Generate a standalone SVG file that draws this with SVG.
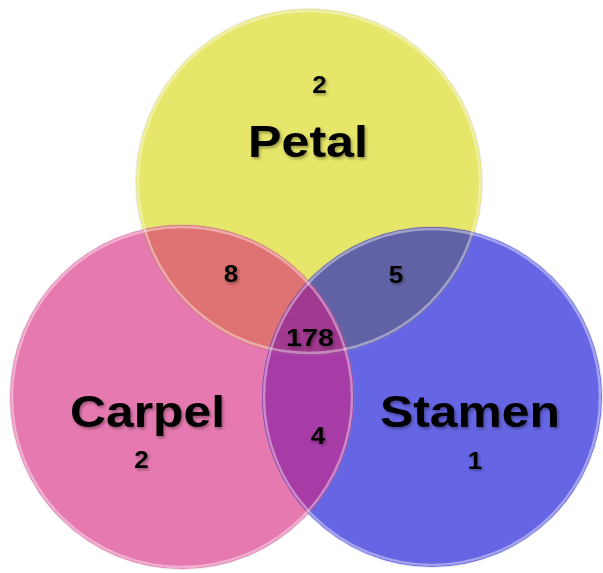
<svg xmlns="http://www.w3.org/2000/svg" width="603" height="573" viewBox="0 0 603 573">
<defs>
<clipPath id="clipY"><circle cx="309" cy="182" r="173"/></clipPath>
<clipPath id="clipP"><circle cx="182" cy="397" r="172"/></clipPath>
<filter id="ts" x="-20%" y="-30%" width="140%" height="170%"><feDropShadow dx="1.5" dy="2" stdDeviation="1.5" flood-color="#000" flood-opacity="0.35"/></filter>
</defs>
<style>
.lbl{font-family:"Liberation Sans",Arial,sans-serif;font-weight:bold;fill:#000;text-anchor:middle;filter:url(#ts)}
.big{font-size:44px}
.num{font-size:24px}
.rim{fill:none;stroke:#ffffff;stroke-opacity:0.4;stroke-width:2.5}
.edge{fill:none;stroke:#999;stroke-opacity:0.2;stroke-width:1}
</style>
<rect width="603" height="573" fill="#ffffff"/>
<g id="petal">
<circle cx="309" cy="182" r="173" fill="#e6e66a"/>
</g>
<g id="carpel">
<circle cx="182" cy="397" r="172" fill="#e67ab0"/>
</g>
<g id="stamen">
<circle cx="432" cy="397" r="170" fill="#6666e5"/>
</g>
<g id="overlaps">
<g clip-path="url(#clipY)"><circle cx="182" cy="397" r="172" fill="#df7272"/></g>
<g clip-path="url(#clipY)"><circle cx="432" cy="397" r="170" fill="#6161a6"/></g>
<g clip-path="url(#clipP)"><circle cx="432" cy="397" r="170" fill="#a73ca6"/></g>
<g clip-path="url(#clipP)"><g clip-path="url(#clipY)"><circle cx="432" cy="397" r="170" fill="#a0398f"/></g></g>
</g>
<g id="rims">
<circle class="edge" cx="309" cy="182" r="173.5"/>
<circle class="edge" cx="182" cy="397" r="172.5"/>
<circle class="edge" cx="432" cy="397" r="170.5"/>
<circle class="rim" cx="309" cy="182" r="171"/>
<circle class="rim" cx="182" cy="397" r="170"/>
<circle class="rim" cx="432" cy="397" r="168"/>
</g>
<g id="connectors"/>
<g id="labels">
<text class="lbl num" x="319.5" y="93" textLength="14.5" lengthAdjust="spacingAndGlyphs">2</text>
<text class="lbl big" x="308" y="157" textLength="120" lengthAdjust="spacingAndGlyphs">Petal</text>
<text class="lbl big" x="147.5" y="427" textLength="155" lengthAdjust="spacingAndGlyphs">Carpel</text>
<text class="lbl num" x="141.5" y="468" textLength="14.5" lengthAdjust="spacingAndGlyphs">2</text>
<text class="lbl big" x="470" y="427" textLength="180" lengthAdjust="spacingAndGlyphs">Stamen</text>
<text class="lbl num" x="475" y="469" textLength="14.5" lengthAdjust="spacingAndGlyphs">1</text>
<text class="lbl num" x="231" y="282" textLength="14.5" lengthAdjust="spacingAndGlyphs">8</text>
<text class="lbl num" x="396" y="283" textLength="14.5" lengthAdjust="spacingAndGlyphs">5</text>
<text class="lbl num" x="310" y="346" font-size="26" textLength="48" lengthAdjust="spacingAndGlyphs">178</text>
<text class="lbl num" x="318" y="444" textLength="14.5" lengthAdjust="spacingAndGlyphs">4</text>
</g>
</svg>
